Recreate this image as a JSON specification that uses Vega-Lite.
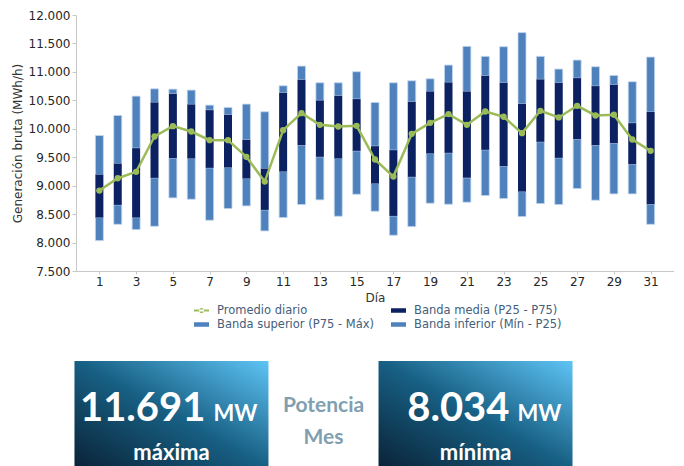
{
  "$schema": "https://vega.github.io/schema/vega-lite/v6.json",
  "padding": {"left": 11, "top": 9, "right": 0, "bottom": 0},
  "spacing": 31,
  "columns": 1,
  "resolve": {"legend": {"color": "independent"}, "scale": {"x": "independent", "color": "independent"}},
  "config": {
    "view": {"stroke": null},
    "font": "DejaVu Sans",
    "axis": {"grid": false, "domainColor": "#c8c8c8", "tickColor": "#c8c8c8", "labelColor": "#262626", "labelFontSize": 12, "titleFontSize": 12, "titleFontWeight": "normal", "titleColor": "#333333"},
    "axisY": {"labelOverlap": false},
    "legend": {"symbolType": "M-1,-0.3H1V0.3H-1Z"}
  },
  "datasets": {
    "dias": [
      {"dia": 1, "min": 8034, "p25": 8439, "p75": 9196, "max": 9882, "prom": 8914},
      {"dia": 2, "min": 8321, "p25": 8662, "p75": 9389, "max": 10234, "prom": 9131},
      {"dia": 3, "min": 8228, "p25": 8439, "p75": 9659, "max": 10574, "prom": 9243},
      {"dia": 4, "min": 8286, "p25": 9137, "p75": 10463, "max": 10703, "prom": 9864},
      {"dia": 5, "min": 8785, "p25": 9483, "p75": 10615, "max": 10697, "prom": 10046},
      {"dia": 6, "min": 8761, "p25": 9477, "p75": 10428, "max": 10680, "prom": 9952},
      {"dia": 7, "min": 8392, "p25": 9313, "p75": 10328, "max": 10416, "prom": 9800},
      {"dia": 8, "min": 8597, "p25": 9319, "p75": 10246, "max": 10375, "prom": 9800},
      {"dia": 9, "min": 8644, "p25": 9125, "p75": 9806, "max": 10434, "prom": 9507},
      {"dia": 10, "min": 8204, "p25": 8574, "p75": 9301, "max": 10299, "prom": 9072},
      {"dia": 11, "min": 8439, "p25": 9248, "p75": 10633, "max": 10756, "prom": 9976},
      {"dia": 12, "min": 8668, "p25": 9712, "p75": 10862, "max": 11102, "prom": 10275},
      {"dia": 13, "min": 8750, "p25": 9507, "p75": 10498, "max": 10809, "prom": 10070},
      {"dia": 14, "min": 8462, "p25": 9477, "p75": 10580, "max": 10809, "prom": 10040},
      {"dia": 15, "min": 8849, "p25": 9612, "p75": 10522, "max": 11003, "prom": 10052},
      {"dia": 16, "min": 8550, "p25": 9037, "p75": 9694, "max": 10463, "prom": 9460},
      {"dia": 17, "min": 8128, "p25": 8468, "p75": 9624, "max": 10809, "prom": 9160},
      {"dia": 18, "min": 8280, "p25": 9155, "p75": 10475, "max": 10844, "prom": 9911},
      {"dia": 19, "min": 8691, "p25": 9565, "p75": 10656, "max": 10879, "prom": 10105},
      {"dia": 20, "min": 8673, "p25": 9577, "p75": 10815, "max": 11120, "prom": 10258},
      {"dia": 21, "min": 8709, "p25": 9137, "p75": 10656, "max": 11449, "prom": 10070},
      {"dia": 22, "min": 8826, "p25": 9630, "p75": 10932, "max": 11273, "prom": 10304},
      {"dia": 23, "min": 8773, "p25": 9342, "p75": 10809, "max": 11443, "prom": 10211},
      {"dia": 24, "min": 8456, "p25": 8896, "p75": 10439, "max": 11691, "prom": 9923},
      {"dia": 25, "min": 8685, "p25": 9771, "p75": 10868, "max": 11273, "prom": 10316},
      {"dia": 26, "min": 8668, "p25": 9489, "p75": 10809, "max": 11050, "prom": 10199},
      {"dia": 27, "min": 8949, "p25": 9817, "p75": 10891, "max": 11208, "prom": 10404},
      {"dia": 28, "min": 8744, "p25": 9712, "p75": 10750, "max": 11091, "prom": 10234},
      {"dia": 29, "min": 8855, "p25": 9747, "p75": 10774, "max": 10938, "prom": 10246},
      {"dia": 30, "min": 8855, "p25": 9377, "p75": 10099, "max": 10827, "prom": 9812},
      {"dia": 31, "min": 8321, "p25": 8673, "p75": 10293, "max": 11261, "prom": 9612}
    ],
    "kpi": [
      {"k": "máxima", "v": "11.691", "u": "MW"},
      {"k": "mínima", "v": "8.034", "u": "MW"}
    ],
    "centro": [
      {"k": "Potencia Mes", "t": ["Potencia", "Mes"]}
    ]
  },
  "concat": [
    {
      "width": 598,
      "height": 256,
      "data": {"name": "dias"},
      "encoding": {
        "x": {
          "field": "dia", "type": "quantitative",
          "scale": {"domain": [0, 32], "nice": false},
          "axis": {"title": "Día", "values": [1,3,5,7,9,11,13,15,17,19,21,23,25,27,29,31], "tickSize": 3, "labelPadding": 2, "titlePadding": 5, "labelFlush": false}
        }
      },
      "layer": [
        {
          "mark": {"type": "bar", "width": 8, "stroke": "#c4d8ef", "strokeWidth": 0.8},
          "encoding": {
            "y": {"field": "p75", "type": "quantitative",
              "scale": {"domain": [7500, 12000], "nice": false, "zero": false},
              "axis": {"title": "Generación bruta (MWh/h)", "values": [7500,8000,8500,9000,9500,10000,10500,11000,11500,12000], "labelExpr": "replace(format(datum.value, ','), ',', '.')", "labelOverlap": false, "labelSeparation": 0, "tickSize": 4, "labelPadding": 2, "titlePadding": 4}},
            "y2": {"field": "max"},
            "color": {
              "datum": "Banda superior (P75 - Máx)",
              "type": "nominal",
              "scale": {
                "domain": ["Promedio diario", "Banda media (P25 - P75)", "Banda superior (P75 - Máx)", "Banda inferior (Mín - P25)"],
                "range": ["#9BBB59", "#0B2161", "#4F81BD", "#4F81BD"]
              },
              "legend": {
                "title": null, "orient": "none", "legendX": 118, "legendY": 288, "direction": "horizontal", "columns": 2,
                "labelFontSize": 11.5, "labelColor": "#44607a", "symbolSize": 225,
                "symbolType": "M-1,-0.3H1V0.3H-1Z",
                "rowPadding": 1, "columnPadding": 16, "labelOffset": 8,
                "encode": {"symbols": {"update": {
                  "shape": {"signal": "datum.value === 'Promedio diario' ? 'M-1,-0.13H1V0.13H-1Z M-0.35,0A0.35,0.35,0,1,0,0.35,0A0.35,0.35,0,1,0,-0.35,0Z' : 'M-1,-0.3H1V0.3H-1Z'"},
                  "strokeWidth": {"value": 0},
                  "opacity": {"value": 1}
                }}}
              }
            }
          }
        },
        {
          "mark": {"type": "bar", "width": 8, "stroke": "#c4d8ef", "strokeWidth": 0.8},
          "encoding": {
            "y": {"field": "min", "type": "quantitative",
              "axis": {"title": "Generación bruta (MWh/h)", "values": [7500,8000,8500,9000,9500,10000,10500,11000,11500,12000], "labelExpr": "replace(format(datum.value, ','), ',', '.')", "labelOverlap": false, "labelSeparation": 0, "tickSize": 4, "labelPadding": 2, "titlePadding": 4}},
            "y2": {"field": "p25"},
            "color": {"datum": "Banda inferior (Mín - P25)", "type": "nominal",
              "legend": {
                "title": null, "orient": "none", "legendX": 118, "legendY": 288, "direction": "horizontal", "columns": 2,
                "labelFontSize": 11.5, "labelColor": "#44607a", "symbolSize": 225,
                "symbolType": "M-1,-0.3H1V0.3H-1Z",
                "rowPadding": 1, "columnPadding": 16, "labelOffset": 8,
                "encode": {"symbols": {"update": {
                  "shape": {"signal": "datum.value === 'Promedio diario' ? 'M-1,-0.13H1V0.13H-1Z M-0.35,0A0.35,0.35,0,1,0,0.35,0A0.35,0.35,0,1,0,-0.35,0Z' : 'M-1,-0.3H1V0.3H-1Z'"},
                  "strokeWidth": {"value": 0},
                  "opacity": {"value": 1}
                }}}
              }}
          }
        },
        {
          "mark": {"type": "bar", "width": 8},
          "encoding": {
            "y": {"field": "p25", "type": "quantitative",
              "axis": {"title": "Generación bruta (MWh/h)", "values": [7500,8000,8500,9000,9500,10000,10500,11000,11500,12000], "labelExpr": "replace(format(datum.value, ','), ',', '.')", "labelOverlap": false, "labelSeparation": 0, "tickSize": 4, "labelPadding": 2, "titlePadding": 4}},
            "y2": {"field": "p75"},
            "color": {"datum": "Banda media (P25 - P75)", "type": "nominal",
              "legend": {
                "title": null, "orient": "none", "legendX": 118, "legendY": 288, "direction": "horizontal", "columns": 2,
                "labelFontSize": 11.5, "labelColor": "#44607a", "symbolSize": 225,
                "symbolType": "M-1,-0.3H1V0.3H-1Z",
                "rowPadding": 1, "columnPadding": 16, "labelOffset": 8,
                "encode": {"symbols": {"update": {
                  "shape": {"signal": "datum.value === 'Promedio diario' ? 'M-1,-0.13H1V0.13H-1Z M-0.35,0A0.35,0.35,0,1,0,0.35,0A0.35,0.35,0,1,0,-0.35,0Z' : 'M-1,-0.3H1V0.3H-1Z'"},
                  "strokeWidth": {"value": 0},
                  "opacity": {"value": 1}
                }}}
              }}
          }
        },
        {
          "mark": {"type": "line", "strokeWidth": 2.5, "point": {"filled": true, "size": 40}},
          "encoding": {
            "y": {"field": "prom", "type": "quantitative",
              "axis": {"title": "Generación bruta (MWh/h)", "values": [7500,8000,8500,9000,9500,10000,10500,11000,11500,12000], "labelExpr": "replace(format(datum.value, ','), ',', '.')", "labelOverlap": false, "labelSeparation": 0, "tickSize": 4, "labelPadding": 2, "titlePadding": 4}},
            "color": {"datum": "Promedio diario", "type": "nominal",
              "legend": {
                "title": null, "orient": "none", "legendX": 118, "legendY": 288, "direction": "horizontal", "columns": 2,
                "labelFontSize": 11.5, "labelColor": "#44607a", "symbolSize": 225,
                "symbolType": "M-1,-0.3H1V0.3H-1Z",
                "rowPadding": 1, "columnPadding": 16, "labelOffset": 8,
                "encode": {"symbols": {"update": {
                  "shape": {"signal": "datum.value === 'Promedio diario' ? 'M-1,-0.13H1V0.13H-1Z M-0.35,0A0.35,0.35,0,1,0,0.35,0A0.35,0.35,0,1,0,-0.35,0Z' : 'M-1,-0.3H1V0.3H-1Z'"},
                  "strokeWidth": {"value": 0},
                  "opacity": {"value": 1}
                }}}
              }}
          }
        }
      ]
    },
    {
      "width": 495,
      "height": 108,
      "encoding": {
        "x": {"field": "k", "type": "nominal", "sort": null,
          "scale": {"domain": ["máxima", "Potencia Mes", "mínima"], "paddingInner": 0, "paddingOuter": 0.128},
          "axis": null}
      },
      "layer": [
        {
          "data": {"name": "kpi"},
          "mark": {"type": "rect", "width": 194, "color": {"gradient": "linear", "x1": 0, "y1": 1, "x2": 1, "y2": 0,
            "stops": [{"offset": 0, "color": "#0A2236"}, {"offset": 0.5, "color": "#175f83"}, {"offset": 1, "color": "#5EC4F5"}]}}
        },
        {
          "data": {"name": "kpi"},
          "mark": {"type": "text", "align": "right", "baseline": "alphabetic", "dx": 34, "dy": 6, "fontSize": 40, "font": "Lato", "fontWeight": "bold", "color": "white"},
          "encoding": {"text": {"field": "v"}}
        },
        {
          "data": {"name": "kpi"},
          "mark": {"type": "text", "align": "left", "baseline": "alphabetic", "dx": 42, "dy": 6, "fontSize": 22, "font": "Lato", "fontWeight": "bold", "color": "white"},
          "encoding": {"text": {"field": "u"}}
        },
        {
          "data": {"name": "kpi"},
          "mark": {"type": "text", "align": "center", "baseline": "alphabetic", "dy": 45, "fontSize": 22, "font": "Lato", "fontWeight": "bold", "color": "white"},
          "encoding": {"text": {"field": "k"}}
        },
        {
          "data": {"name": "centro"},
          "mark": {"type": "text", "align": "center", "baseline": "alphabetic", "dy": -3, "lineHeight": 32, "fontSize": 21, "font": "Lato", "fontWeight": "bold", "color": "#819FB0"},
          "encoding": {"text": {"field": "t"}}
        }
      ]
    }
  ]
}
